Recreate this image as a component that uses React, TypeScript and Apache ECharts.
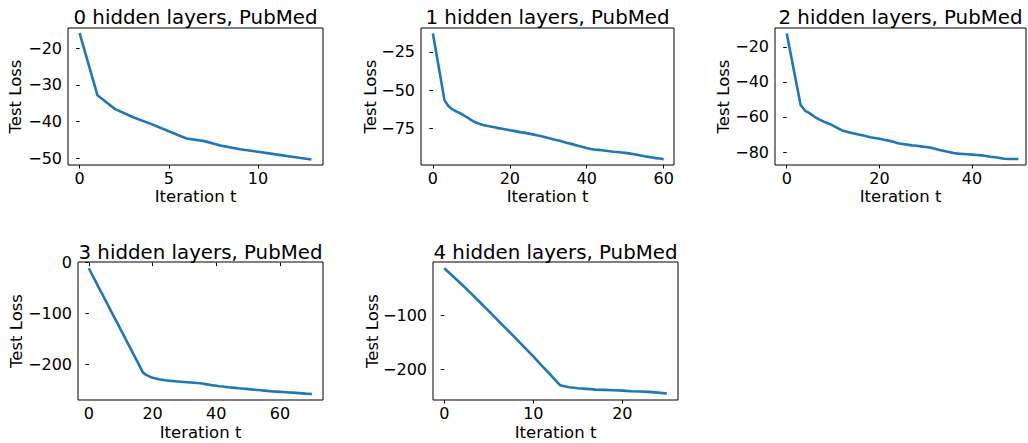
import React, { useEffect, useRef } from "react";
import * as echarts from "echarts";

// ---- data (iteration index = position in array) ----
const titles = [
  "0 hidden layers, PubMed",
  "1 hidden layers, PubMed",
  "2 hidden layers, PubMed",
  "3 hidden layers, PubMed",
  "4 hidden layers, PubMed",
];
const xAxisName = "Iteration t";
const yAxisName = "Test Loss";

const loss0 = [-15.9, -32.8, -36.6, -38.8, -40.6, -42.6, -44.6, -45.3, -46.6, -47.5, -48.2, -48.9, -49.6, -50.3];
const loss1 = [
  -13.0, -27.5, -42.0, -56.5, -60.3, -62.4, -63.8, -65.0, -66.4, -67.9,
  -69.6, -71.0, -72.0, -72.7, -73.3, -73.8, -74.3, -74.8, -75.2, -75.7,
  -76.2, -76.6, -77.1, -77.6, -77.9, -78.4, -78.9, -79.5, -80.0, -80.6,
  -81.3, -81.9, -82.5, -83.1, -83.8, -84.5, -85.1, -85.8, -86.5, -87.1,
  -87.8, -88.4, -88.8, -89.0, -89.3, -89.6, -89.9, -90.2, -90.4, -90.7,
  -91.0, -91.3, -91.7, -92.2, -92.7, -93.2, -93.6, -94.0, -94.4, -94.7,
  -95.1,
];
const loss2 = [
  -12.4, -26.0, -39.6, -53.2, -56.5, -58.0, -59.9, -61.4, -62.7, -63.7,
  -65.0, -66.4, -67.7, -68.4, -69.2, -69.7, -70.3, -70.9, -71.6, -72.0,
  -72.4, -73.0, -73.5, -74.1, -75.0, -75.4, -75.8, -76.2, -76.4, -76.8,
  -77.1, -77.5, -78.1, -78.9, -79.4, -80.0, -80.6, -80.9, -81.1, -81.3,
  -81.5, -81.7, -81.9, -82.3, -82.7, -83.0, -83.4, -83.8, -84.0, -84.0,
  -84.0,
];
const loss3 = [
  -11.0, -23.2, -35.1, -47.3, -59.0, -71.2, -83.1, -95.4, -107.2, -119.0,
  -131.3, -143.1, -155.2, -167.0, -179.3, -191.1, -203.2, -215.5, -220.0, -223.0,
  -225.5, -227.0, -228.5, -229.5, -230.5, -231.2, -231.8, -232.3, -232.8, -233.3,
  -233.8, -234.3, -234.8, -235.4, -236.0, -236.5, -237.5, -238.6, -239.6, -240.6,
  -241.4, -242.2, -242.9, -243.6, -244.3, -244.9, -245.5, -246.1, -246.6, -247.2,
  -247.8, -248.4, -249.0, -249.6, -250.2, -250.8, -251.4, -251.9, -252.4, -252.8,
  -253.2, -253.6, -254.0, -254.4, -254.8, -255.2, -255.7, -256.2, -256.7, -257.1,
  -257.6,
];
const loss4 = [
  -11.8, -27.0, -42.5, -58.5, -75.0, -91.5, -108.5, -125.0, -142.0, -159.0,
  -176.0, -194.0, -211.5, -229.5, -233.3, -235.2, -236.4, -237.7, -238.3, -238.9,
  -239.6, -240.8, -241.4, -242.0, -243.3, -245.1,
];

const xTicks0 = [0, 5, 10];
const yTicks0 = [-20, -30, -40, -50];
const xTicks1 = [0, 20, 40, 60];
const yTicks1 = [-25, -50, -75];
const xTicks2 = [0, 20, 40];
const yTicks2 = [-20, -40, -60, -80];
const xTicks3 = [0, 20, 40, 60];
const yTicks3 = [0, -100, -200];
const xTicks4 = [0, 10, 20];
const yTicks4 = [-100, -200];

const allLoss = [loss0, loss1, loss2, loss3, loss4];
const allXTicks = [xTicks0, xTicks1, xTicks2, xTicks3, xTicks4];
const allYTicks = [yTicks0, yTicks1, yTicks2, yTicks3, yTicks4];

// ---- layout (pixels / axis extents) ----
const layout = [
  { left: 68, top: 28, width: 255, height: 137, xMin: -0.65, xMax: 13.65, yMin: -51.8, yMax: -14.5, yNameX: 15.5 },
  { left: 421, top: 28, width: 253, height: 137, xMin: -3.1, xMax: 62.7, yMin: -98.9, yMax: -9.4, yNameX: 370 },
  { left: 775, top: 28, width: 251, height: 137, xMin: -2.53, xMax: 51.65, yMin: -87.4, yMax: -9.3, yNameX: 723.5 },
  { left: 78, top: 262, width: 245, height: 138, xMin: -3.4, xMax: 73.5, yMin: -269.2, yMax: 1.3, yNameX: 16 },
  { left: 433, top: 262, width: 245, height: 138, xMin: -1.27, xMax: 26.25, yMin: -257.1, yMax: -0.1, yNameX: 372.7 },
];

const FONT = "DejaVu Sans";
const BLUE = "#1f77b4";
const fmt = (v: number) => String(v).replace("-", "\u2212");

export default function App() {
  const ref = useRef<HTMLDivElement>(null);
  useEffect(() => {
    if (!ref.current) return;
    const chart = echarts.init(ref.current, undefined, { renderer: "svg" });
    const grid: any[] = [];
    const xAxis: any[] = [];
    const yAxis: any[] = [];
    const series: any[] = [];
    const graphic: any[] = [];
    layout.forEach((L, i) => {
      grid.push({
        left: L.left,
        top: L.top,
        width: L.width,
        height: L.height,
        show: true,
        borderColor: "#000",
        borderWidth: 1,
        backgroundColor: "transparent",
        containLabel: false,
      });
      xAxis.push({
        type: "value",
        gridIndex: i,
        min: L.xMin,
        max: L.xMax,
        axisLine: { show: false },
        splitLine: { show: false },
        axisTick: { show: true, inside: false, length: 3.5, lineStyle: { color: "#000", width: 1 }, customValues: allXTicks[i] },
        axisLabel: { customValues: allXTicks[i], color: "#000", fontSize: 16, fontFamily: FONT, margin: 5, formatter: fmt },
      });
      yAxis.push({
        type: "value",
        gridIndex: i,
        min: L.yMin,
        max: L.yMax,
        axisLine: { show: false },
        splitLine: { show: false },
        axisTick: { show: true, inside: false, length: 3.5, lineStyle: { color: "#000", width: 1 }, customValues: allYTicks[i] },
        axisLabel: { customValues: allYTicks[i], color: "#000", fontSize: 16, fontFamily: FONT, margin: 6, formatter: fmt },
      });
      series.push({
        type: "line",
        xAxisIndex: i,
        yAxisIndex: i,
        data: allLoss[i].map((v, t) => [t, v]),
        showSymbol: false,
        symbol: "none",
        lineStyle: { color: BLUE, width: 2.6 },
        clip: true,
      });
      const cx = L.left + L.width / 2;
      const row = i < 3 ? 0 : 1;
      graphic.push({
        type: "text",
        x: cx,
        y: row === 0 ? 17.5 : 252,
        style: { text: titles[i], fontSize: 19.8, fontFamily: FONT, fill: "#000", textAlign: "center", textVerticalAlign: "middle" },
      });
      graphic.push({
        type: "text",
        x: cx,
        y: row === 0 ? 196 : 432,
        style: { text: xAxisName, fontSize: 16.5, fontFamily: FONT, fill: "#000", textAlign: "center", textVerticalAlign: "middle" },
      });
      graphic.push({
        type: "text",
        x: L.yNameX,
        y: L.top + L.height / 2,
        rotation: Math.PI / 2,
        style: { text: yAxisName, fontSize: 16.5, fontFamily: FONT, fill: "#000", textAlign: "center", textVerticalAlign: "middle" },
      });
    });
    chart.setOption({
      animation: false,
      backgroundColor: "#fff",
      grid,
      xAxis,
      yAxis,
      series,
      graphic,
    });
    return () => chart.dispose();
  }, []);
  return (
    <div
      ref={ref}
      style={{ position: "fixed", left: 0, top: 0, width: 1028, height: 443 }}
    />
  );
}
